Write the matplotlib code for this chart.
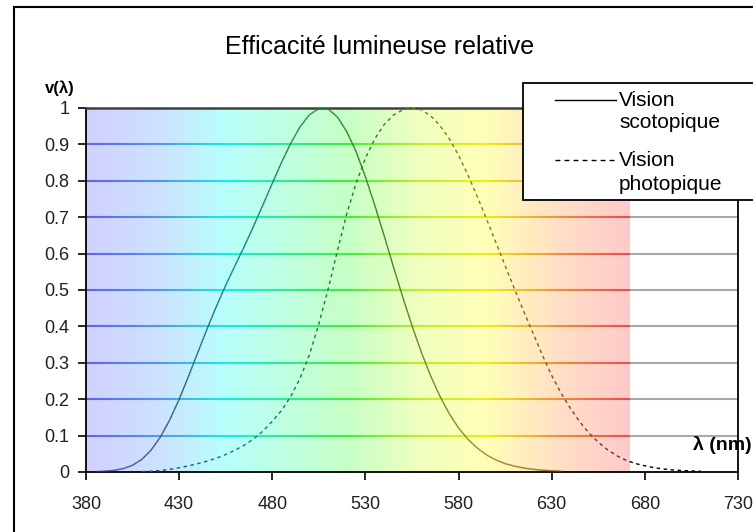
import numpy as np
import matplotlib
matplotlib.use("Agg")
import matplotlib.pyplot as plt
from matplotlib.collections import LineCollection
from matplotlib.lines import Line2D
from matplotlib.patches import Rectangle

plt.rcParams['font.family'] = ['Liberation Sans', 'DejaVu Sans']

# scotopic curve (night vision)
wl_scot = [385, 390, 395, 400, 405, 410, 415, 420, 425, 430, 435, 440, 445, 450, 455,
           460, 465, 470, 475, 480, 485, 490, 495, 500, 505, 507, 510, 515, 520, 525,
           530, 535, 540, 545, 550, 555, 560, 565, 570, 575, 580, 585, 590, 595, 600,
           605, 610, 615, 620, 625, 630, 635]
v_scot = [0.0011, 0.0022, 0.0045, 0.0093, 0.0185, 0.0348, 0.0604, 0.0966, 0.1436, 0.1998,
          0.2625, 0.3281, 0.3931, 0.455, 0.513, 0.567, 0.620, 0.676, 0.734, 0.793, 0.851,
          0.904, 0.949, 0.982, 0.998, 1.0, 0.997, 0.975, 0.935, 0.880, 0.811, 0.733, 0.650,
          0.564, 0.481, 0.402, 0.329, 0.264, 0.208, 0.160, 0.121, 0.090, 0.066, 0.047,
          0.033, 0.023, 0.016, 0.011, 0.0074, 0.0050, 0.0033, 0.0022]

# photopic curve (day vision)
wl_phot = [410, 415, 420, 425, 430, 435, 440, 445, 450, 455, 460, 465, 470, 475, 480,
           485, 490, 495, 500, 505, 510, 515, 520, 525, 530, 535, 540, 545, 550, 555,
           560, 565, 570, 575, 580, 585, 590, 595, 600, 605, 610, 615, 620, 625, 630,
           635, 640, 645, 650, 655, 660, 665, 670, 675, 680, 685, 690, 695, 700, 705, 710]
v_phot = [0.0012, 0.0022, 0.0040, 0.0073, 0.0116, 0.0168, 0.023, 0.0298, 0.038, 0.048,
          0.060, 0.0739, 0.091, 0.1126, 0.139, 0.1693, 0.208, 0.2586, 0.323, 0.4073,
          0.503, 0.6082, 0.710, 0.7932, 0.862, 0.9149, 0.954, 0.9803, 0.995, 1.0, 0.995,
          0.9786, 0.952, 0.9154, 0.870, 0.8163, 0.757, 0.6949, 0.631, 0.5668, 0.503,
          0.4412, 0.381, 0.321, 0.265, 0.217, 0.175, 0.1382, 0.107, 0.0816, 0.061, 0.0446,
          0.032, 0.0232, 0.017, 0.0119, 0.0082, 0.0057, 0.0041, 0.0029, 0.0021]

x_ticks = [380, 430, 480, 530, 580, 630, 680, 730]
y_ticks = [0, 0.1, 0.2, 0.3, 0.4, 0.5, 0.6, 0.7, 0.8, 0.9, 1]
y_ticklabels = ['0', '0.1', '0.2', '0.3', '0.4', '0.5', '0.6', '0.7', '0.8', '0.9', '1']
spectrum_end = 672

# colour stops of the rainbow band behind the plot
spec_nm = [380, 420, 455, 520, 560, 595, 635, 672]
spec_rgb = [(0.35, 0.35, 1.0), (0.3, 0.6, 1.0), (0.0, 1.0, 0.95), (0.2, 1.0, 0.2),
            (0.8, 1.0, 0.1), (1.0, 1.0, 0.0), (1.0, 0.55, 0.2), (1.0, 0.25, 0.25)]
spec_rgb = np.array(spec_rgb)


def spec_color(nm):
    nm = np.atleast_1d(nm)
    return np.column_stack([np.interp(nm, spec_nm, spec_rgb[:, k]) for k in range(3)])


W, H = 753, 532
fig = plt.figure(figsize=(W / 100, H / 100), dpi=100)
ax = fig.add_axes([86 / W, 1 - 472 / H, (738 - 86) / W, (472 - 108) / H])
ax.set_xlim(380, 730)
ax.set_ylim(0, 1)

# pastel spectrum background
bg_x = np.linspace(380, spectrum_end, 400)
bg = spec_color(bg_x) * 0.28 + 0.72
ax.imshow(bg[np.newaxis, :, :], extent=[380, spectrum_end, 0, 1], aspect='auto',
          interpolation='bilinear', zorder=0)

# coloured gridlines, grey past the end of the band
gx = np.arange(380, 731, 1.0)
for yv in y_ticks[1:-1]:
    segs = [[(gx[i], yv), (gx[i + 1], yv)] for i in range(len(gx) - 1)]
    mid = (gx[:-1] + gx[1:]) / 2
    cols = spec_color(mid) * 0.85 + 0.15 * 0.55
    cols[mid > spectrum_end] = (0.66, 0.66, 0.66)
    ax.add_collection(LineCollection(segs, colors=cols, linewidths=1.5, zorder=1))

fig.canvas.draw()
to_px = ax.transData
to_data = ax.transData.inverted()


def curve_colors(xs):
    cols = spec_color(xs) * 0.5
    cols[xs > spectrum_end] = (0, 0, 0)
    return cols


def dense(wl, v):
    xs = np.linspace(wl[0], wl[-1], 800)
    return xs, np.interp(xs, wl, v)


# solid scotopic curve
xs, ys = dense(wl_scot, v_scot)
pts = np.column_stack([xs, ys])
segs = np.stack([pts[:-1], pts[1:]], axis=1)
mid = (xs[:-1] + xs[1:]) / 2
ax.add_collection(LineCollection(segs, colors=curve_colors(mid), linewidths=1.0, zorder=3))

# dashed photopic curve, dashes cut by hand so each can take its own colour
xs, ys = dense(wl_phot, v_phot)
px = to_px.transform(np.column_stack([xs, ys]))
s = np.concatenate([[0], np.cumsum(np.hypot(np.diff(px[:, 0]), np.diff(px[:, 1])))])
dash_on, dash_off = 3.5, 3.5
dashes, dash_mid = [], []
start = 0.0
while start < s[-1]:
    ss = np.linspace(start, min(start + dash_on, s[-1]), 5)
    d = np.column_stack([np.interp(ss, s, px[:, 0]), np.interp(ss, s, px[:, 1])])
    d = to_data.transform(d)
    dashes.append(d)
    dash_mid.append(d[:, 0].mean())
    start += dash_on + dash_off
ax.add_collection(LineCollection(dashes, colors=curve_colors(np.array(dash_mid)),
                                 linewidths=1.0, zorder=3))

# axes styling
ax.set_xticks(x_ticks)
ax.set_yticks(y_ticks)
ax.set_yticklabels(y_ticklabels)
ax.tick_params(axis='x', direction='out', length=6, width=1.2, pad=11, labelsize=13,
               colors='black')
ax.tick_params(axis='y', direction='out', length=6, width=1.2, pad=6, labelsize=13,
               colors='black')
for sp in ['left', 'bottom', 'right']:
    ax.spines[sp].set_color('black')
    ax.spines[sp].set_linewidth(1.3)
ax.spines['top'].set_color('#404040')
ax.spines['top'].set_linewidth(1.8)
for lbl in ax.get_xticklabels() + ax.get_yticklabels():
    lbl.set_color('#202020')

# outer chart frame (cropped on the right and bottom)
fig.add_artist(Rectangle((14 / W, -30 / H), 800 / W, (532 - 7 + 30) / H,
                         transform=fig.transFigure, fill=False, ec='black', lw=1.5,
                         zorder=5))

fig.text(380 / W, 1 - 47 / H, 'Efficacité lumineuse relative', ha='center',
         va='center', fontsize=18)
fig.text(60 / W, 1 - 88 / H, 'v(λ)', ha='center', va='center', fontsize=12,
         fontweight='bold')
fig.text(693 / W, 1 - 445 / H, 'λ (nm)', ha='left', va='center', fontsize=14,
         fontweight='bold')

# legend box drawn by hand
fig.add_artist(Rectangle((523 / W, 1 - 200 / H), 300 / W, (200 - 83) / H,
                         transform=fig.transFigure, fc='white', ec='black', lw=1.3,
                         zorder=10))
fig.add_artist(Line2D([555 / W, 616 / W], [1 - 100 / H, 1 - 100 / H],
                      transform=fig.transFigure, color='black', lw=1.0, zorder=11))
fig.add_artist(Line2D([555 / W, 616 / W], [1 - 160 / H, 1 - 160 / H],
                      transform=fig.transFigure, color='black', lw=1.0,
                      dashes=(3.5, 3.0), zorder=11))
for txt, yy in [('Vision', 100), ('scotopique', 122), ('Vision', 160), ('photopique', 185)]:
    fig.text(619 / W, 1 - yy / H, txt, ha='left', va='center', fontsize=15, zorder=12)

fig.savefig('out.png', dpi=100)
